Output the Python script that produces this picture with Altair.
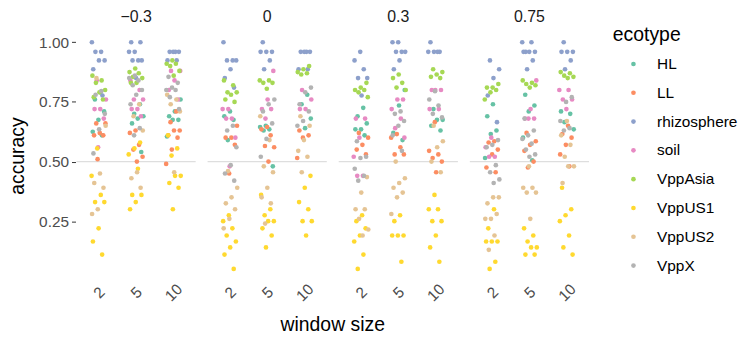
import altair as alt
import pandas as pd

ecotypes = ["HL", "LL", "rhizosphere", "soil", "VppAsia", "VppUS1", "VppUS2", "VppX"]
palette = ["#66c2a5", "#fc8d62", "#8da0cb", "#e78ac3", "#a6d854", "#ffd92f", "#e5c494", "#b3b3b3"]
facets = ["−0.3", "0", "0.3", "0.75"]
windows = ["2", "5", "10"]

# facet -0.3
m03_w2 = {
    "HL": [0.79, 0.76, 0.71, 0.675, 0.625, 0.61],
    "LL": [0.66, 0.66, 0.62, 0.61, 0.61, 0.51],
    "rhizosphere": [1.0, 0.96, 0.96, 0.924, 0.924, 0.887, 0.777],
    "soil": [0.84, 0.76, 0.72, 0.72, 0.68, 0.56],
    "VppAsia": [0.86, 0.84, 0.83, 0.80, 0.79, 0.77, 0.76],
    "VppUS1": [0.555, 0.44, 0.36, 0.33, 0.33, 0.22, 0.165, 0.11],
    "VppUS2": [0.85, 0.65, 0.45, 0.41, 0.39, 0.30, 0.28],
    "VppX": [0.795, 0.78, 0.70, 0.635, 0.534],
}
m03_w5 = {
    "HL": [0.74, 0.70, 0.69, 0.68, 0.66, 0.54],
    "LL": [0.63, 0.62, 0.57, 0.55, 0.52, 0.50],
    "rhizosphere": [1.0, 1.0, 0.96, 0.96, 0.924, 0.924, 0.924, 0.85],
    "soil": [0.84, 0.80, 0.76, 0.76, 0.72, 0.72, 0.69],
    "VppAsia": [0.89, 0.875, 0.87, 0.855, 0.85, 0.83, 0.83],
    "VppUS1": [0.58, 0.555, 0.53, 0.47, 0.36, 0.36, 0.33, 0.30],
    "VppUS2": [0.74, 0.69, 0.63, 0.455, 0.43, 0.39],
    "VppX": [0.86, 0.85, 0.84, 0.82, 0.80, 0.78, 0.74, 0.64, 0.61],
}
m03_w10 = {
    "HL": [0.76, 0.71, 0.69, 0.675, 0.675, 0.605],
    "LL": [0.71, 0.665, 0.63, 0.63, 0.61, 0.60, 0.55, 0.49],
    "rhizosphere": [0.96, 0.96, 0.96, 0.96, 0.924, 0.924],
    "soil": [0.88, 0.88, 0.84, 0.80, 0.76],
    "VppAsia": [0.924, 0.91, 0.91, 0.90, 0.88, 0.86],
    "VppUS1": [0.61, 0.555, 0.525, 0.44, 0.44, 0.41, 0.39, 0.30],
    "VppUS2": [0.78, 0.76, 0.74, 0.71, 0.455],
    "VppX": [0.855, 0.83, 0.81, 0.80, 0.80, 0.77, 0.72],
}
# facet 0
p0_w2 = {
    "HL": [0.71, 0.69, 0.675, 0.59],
    "LL": [0.65, 0.60, 0.60, 0.57, 0.45],
    "rhizosphere": [1.0, 0.924, 0.924, 0.924, 0.887, 0.85, 0.81],
    "soil": [0.72, 0.72, 0.68, 0.68, 0.60, 0.48],
    "VppAsia": [0.84, 0.82, 0.79, 0.79, 0.78, 0.76, 0.75],
    "VppUS1": [0.275, 0.25, 0.22, 0.19, 0.165, 0.14, 0.11, 0.05],
    "VppUS2": [0.46, 0.39, 0.35, 0.325, 0.30, 0.26, 0.22],
    "VppX": [0.65, 0.63, 0.56, 0.485, 0.45, 0.42],
}
p0_w5 = {
    "HL": [0.65, 0.645, 0.635, 0.63, 0.48],
    "LL": [0.645, 0.635, 0.61, 0.565, 0.56, 0.50],
    "rhizosphere": [1.0, 0.96, 0.96, 0.96, 0.924, 0.887],
    "soil": [0.88, 0.76, 0.72, 0.72, 0.68],
    "VppAsia": [0.84, 0.84, 0.83, 0.83, 0.805],
    "VppUS1": [0.36, 0.30, 0.275, 0.25, 0.25, 0.22, 0.19, 0.14],
    "VppUS2": [0.69, 0.59, 0.48, 0.455, 0.39, 0.35, 0.325, 0.24],
    "VppX": [0.76, 0.74, 0.71, 0.66, 0.595, 0.52],
}
p0_w10 = {
    "HL": [0.78, 0.74, 0.68, 0.64],
    "LL": [0.63, 0.61, 0.60, 0.515],
    "rhizosphere": [0.96, 0.96, 0.96, 0.96, 0.887, 0.887],
    "soil": [0.80, 0.76, 0.72, 0.72],
    "VppAsia": [0.90, 0.887, 0.875, 0.87, 0.865],
    "VppUS1": [0.44, 0.39, 0.33, 0.30, 0.25, 0.25, 0.19],
    "VppUS2": [0.69, 0.65, 0.59, 0.545, 0.52, 0.455],
    "VppX": [0.81, 0.79, 0.74, 0.71, 0.67, 0.65],
}
# facet 0.3
p03_w2 = {
    "HL": [0.725, 0.69, 0.66, 0.635, 0.635, 0.61],
    "LL": [0.62, 0.60, 0.57, 0.55, 0.53],
    "rhizosphere": [0.96, 0.924, 0.887, 0.85, 0.85, 0.777],
    "soil": [0.68, 0.68, 0.60, 0.52, 0.44, 0.44],
    "VppAsia": [0.83, 0.81, 0.80, 0.80, 0.79, 0.77],
    "VppUS1": [0.275, 0.25, 0.22, 0.19, 0.165, 0.11, 0.05],
    "VppUS2": [0.435, 0.37, 0.30, 0.30, 0.26, 0.215, 0.19],
    "VppX": [0.585, 0.52, 0.515, 0.47, 0.44, 0.42],
}
p03_w5 = {
    "HL": [0.80, 0.735, 0.62, 0.59],
    "LL": [0.615, 0.60, 0.56, 0.53, 0.53],
    "rhizosphere": [1.0, 1.0, 0.96, 0.96, 0.96, 0.924, 0.887],
    "soil": [0.76, 0.76, 0.72, 0.68, 0.64, 0.60],
    "VppAsia": [0.865, 0.85, 0.83, 0.81, 0.80],
    "VppUS1": [0.275, 0.25, 0.19, 0.19, 0.19, 0.08],
    "VppUS2": [0.50, 0.43, 0.41, 0.39, 0.37, 0.35, 0.28],
    "VppX": [0.71, 0.70, 0.67, 0.65, 0.61, 0.545],
}
p03_w10 = {
    "HL": [0.72, 0.675, 0.675, 0.65, 0.63],
    "LL": [0.665, 0.545, 0.53, 0.515, 0.50, 0.455],
    "rhizosphere": [1.0, 0.96, 0.96, 0.96, 0.96],
    "soil": [0.80, 0.80, 0.80, 0.72, 0.72],
    "VppAsia": [0.887, 0.875, 0.865, 0.855, 0.85],
    "VppUS1": [0.36, 0.30, 0.30, 0.25, 0.25, 0.19, 0.14, 0.08],
    "VppUS2": [0.65, 0.585, 0.56, 0.50, 0.455],
    "VppX": [0.795, 0.76, 0.735, 0.70, 0.685],
}
# facet 0.75
p075_w2 = {
    "HL": [0.74, 0.69, 0.63, 0.615, 0.515],
    "LL": [0.585, 0.58, 0.55, 0.53, 0.475, 0.455],
    "rhizosphere": [0.924, 0.887, 0.85, 0.777, 0.665],
    "soil": [0.60, 0.56, 0.52, 0.52],
    "VppAsia": [0.825, 0.81, 0.81, 0.80, 0.79, 0.76],
    "VppUS1": [0.30, 0.22, 0.165, 0.165, 0.165, 0.08, 0.05],
    "VppUS2": [0.35, 0.35, 0.325, 0.28, 0.26, 0.26, 0.19, 0.13],
    "VppX": [0.59, 0.57, 0.56, 0.485, 0.455, 0.425, 0.41],
}
p075_w5 = {
    "HL": [0.78, 0.735, 0.71, 0.60, 0.505],
    "LL": [0.62, 0.585, 0.57, 0.545, 0.50, 0.475],
    "rhizosphere": [1.0, 1.0, 0.96, 0.96, 0.96, 0.96, 0.924, 0.887],
    "soil": [0.84, 0.72, 0.68, 0.68, 0.68],
    "VppAsia": [0.84, 0.83, 0.825, 0.82, 0.81],
    "VppUS1": [0.22, 0.19, 0.165, 0.14, 0.14, 0.11, 0.11],
    "VppUS2": [0.48, 0.39, 0.39, 0.37, 0.37, 0.26],
    "VppX": [0.68, 0.63, 0.61, 0.595, 0.575, 0.55, 0.53, 0.52],
}
p075_w10 = {
    "HL": [0.71, 0.70, 0.665, 0.635],
    "LL": [0.65, 0.615, 0.60, 0.57, 0.53, 0.48],
    "rhizosphere": [1.0, 0.96, 0.96, 0.96, 0.924, 0.887],
    "soil": [0.80, 0.80, 0.76, 0.76, 0.72],
    "VppAsia": [0.875, 0.87, 0.86, 0.855, 0.85],
    "VppUS1": [0.39, 0.30, 0.275, 0.25, 0.19, 0.14, 0.11],
    "VppUS2": [0.67, 0.61, 0.57, 0.52, 0.48, 0.48, 0.41],
    "VppX": [0.77, 0.75, 0.67, 0.64, 0.63],
}

panels = {
    ("−0.3", "2"): m03_w2, ("−0.3", "5"): m03_w5, ("−0.3", "10"): m03_w10,
    ("0", "2"): p0_w2, ("0", "5"): p0_w5, ("0", "10"): p0_w10,
    ("0.3", "2"): p03_w2, ("0.3", "5"): p03_w5, ("0.3", "10"): p03_w10,
    ("0.75", "2"): p075_w2, ("0.75", "5"): p075_w5, ("0.75", "10"): p075_w10,
}

rows = []
for (f, w), d in panels.items():
    for e in ecotypes:
        for v in d[e]:
            rows.append({"facet": f, "window": w, "ecotype": e, "accuracy": v})
df = pd.DataFrame(rows)

FONT = "Liberation Sans"

hline = alt.Chart().mark_rule(color="#dedede", strokeWidth=1.2).encode(
    y=alt.datum(0.5)
).transform_aggregate(n="count()")

points = alt.Chart().mark_circle(size=22, opacity=1).encode(
    x=alt.X("xpos:Q",
            scale=alt.Scale(domain=[-0.6, 2.6], nice=False, zero=False),
            axis=alt.Axis(values=[0, 1, 2], labelExpr="['2','5','10'][datum.value]",
                          title=None, grid=False, domain=False, ticks=False,
                          labelAngle=-45, labelAlign="center", labelBaseline="middle",
                          labelPadding=12, labelFontSize=15.5, labelColor="#4d4d4d",
                          labelFont=FONT)),
    y=alt.Y("accuracy:Q",
            scale=alt.Scale(domain=[0.0025, 1.0475], nice=False, zero=False),
            axis=alt.Axis(values=[0.25, 0.5, 0.75, 1.0], format=".2f", title="accuracy",
                          grid=False, domain=False, ticks=True, tickSize=4,
                          tickColor="#333333", labelPadding=3, labelFontSize=15.5,
                          labelColor="#4d4d4d", labelFont=FONT, titleFont=FONT,
                          titleFontSize=19.5, titleFontWeight="normal",
                          titleColor="#000000", titlePadding=11)),
    color=alt.Color("ecotype:N", scale=alt.Scale(domain=ecotypes, range=palette),
                    legend=alt.Legend(title="ecotype", titleFontSize=19.5,
                                      titleFontWeight="normal", titleFont=FONT,
                                      titleColor="#000000", labelFont=FONT,
                                      labelFontSize=15.5, labelColor="#000000",
                                      symbolType="circle", symbolSize=22,
                                      symbolStrokeWidth=0, rowPadding=12,
                                      symbolOffset=13, labelOffset=16,
                                      titlePadding=11, orient="none",
                                      legendX=540, legendY=-5)),
)

chart = alt.layer(hline, points, data=df).properties(width=120, height=251).facet(
    column=alt.Column("facet:N", sort=facets,
                      header=alt.Header(title="window size", titleOrient="bottom",
                                        titleFont=FONT, titleFontSize=19.5,
                                        titleFontWeight="normal", titleColor="#000000",
                                        titlePadding=1,
                                        labelOrient="top", labelFont=FONT,
                                        labelFontSize=16, labelColor="#1a1a1a",
                                        labelPadding=6)),
    spacing=10,
).transform_window(
    rn="row_number()"
).transform_calculate(
    xpos="indexof(['2','5','10'], datum.window) + ((datum.rn * 0.6180339887) % 1 - 0.5) * 0.4"
).configure_view(stroke=None).properties(
    padding={"left": 7, "top": 8, "right": 0, "bottom": 0},
    background="white",
)

chart.save("out.html", embed_options={"renderer": "svg", "actions": False})
